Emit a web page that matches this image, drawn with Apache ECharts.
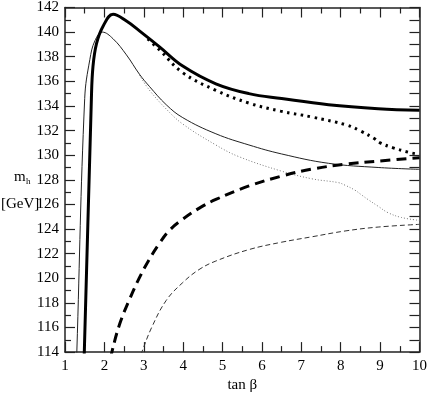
<!DOCTYPE html>
<html>
<head>
<meta charset="utf-8" />
<title>mh vs tan beta</title>
<script src="https://cdn.jsdelivr.net/npm/echarts@6/dist/echarts.min.js"></script>
<style>
  html, body { margin: 0; padding: 0; background: #fff; }
  #main { width: 430px; height: 398px; }
</style>
</head>
<body>
<div id="main"></div>
<script type="text/javascript">
// tan beta ticks / m_h ticks
var xTicks = [1, 10, 1];
var yTicks = [114, 142, 2];

// thick solid
var thickSolid = [[1.47, 113], [1.49, 114], [1.67, 134.6], [1.71, 137.2], [1.80, 139.07], [1.97, 140.5],
  [2.22, 141.45], [2.56, 140.9], [2.89, 140.1], [3.40, 138.8], [3.99, 137.24], [4.83, 135.8],
  [5.67, 135.0], [6.5, 134.6], [7.69, 134.1], [8.95, 133.78], [10, 133.65]];
// thin solid
var thinSolid = [[1.29, 113], [1.30, 114], [1.50, 134.6], [1.63, 137.76], [1.76, 139.3], [1.95, 140.0],
  [2.22, 139.46], [2.56, 138.15], [2.89, 136.58], [3.14, 135.6], [3.57, 134.1], [3.99, 133.05],
  [4.83, 131.74], [5.67, 130.83], [6.5, 130.1], [7.69, 129.34], [8.95, 129.0], [10, 128.85]];
// thick dotted
var thickDotted = [[3.1, 139.45], [3.40, 138.55], [3.99, 136.7], [4.83, 135.27], [5.67, 134.23],
  [6.47, 133.58], [7.27, 133.1], [8.15, 132.45], [8.51, 131.95], [8.85, 131.35], [9.0, 131.0],
  [9.33, 130.6], [9.71, 130.25], [10, 130.05]];
// thin dotted
var thinDotted = [[2.89, 136.5], [3.14, 135.3], [3.57, 133.75], [3.99, 132.53], [4.83, 130.83],
  [5.4, 129.9], [6.47, 128.73], [7.27, 128.08], [7.94, 127.77], [8.11, 127.56], [8.36, 127.16],
  [8.53, 126.77], [8.70, 126.38], [8.95, 125.85], [9.2, 125.33], [9.54, 124.94], [10, 124.7]];
// thick dashed
var thickDashed = [[2.17, 113.5], [2.19, 114], [2.39, 116.3], [2.64, 118.3], [2.89, 120.05], [3.14, 121.54],
  [3.40, 122.85], [3.65, 123.89], [3.99, 124.8], [4.41, 125.7], [4.83, 126.4], [5.67, 127.5],
  [6.5, 128.3], [7.27, 128.87], [8.11, 129.26], [8.95, 129.52], [10, 129.8]];
// thin dashed
var thinDashed = [[2.93, 113.8], [2.95, 114], [3.2, 116.0], [3.57, 118.2], [3.99, 119.65], [4.4, 120.7],
  [4.83, 121.4], [5.67, 122.33], [6.5, 122.93], [7.27, 123.37], [8.11, 123.84], [8.95, 124.16], [10, 124.38]];

var myChart = echarts.init(document.getElementById('main'));

var serif = 'Liberation Serif';
var axisCol = '#222';

function line(data, width, type, color) {
  return {
    type: 'line',
    data: data,
    showSymbol: false,
    smooth: 0.4,
    clip: true,
    silent: true,
    lineStyle: { width: width, type: type, color: color }
  };
}

var baseAxis = {
  type: 'value',
  axisLine: { show: true, onZero: false, lineStyle: { color: axisCol, width: 1.5 } },
  axisTick: { show: true, inside: true, length: 10, lineStyle: { color: axisCol, width: 1.2 } },
  minorTick: { show: true, splitNumber: 2, length: 6, lineStyle: { color: axisCol, width: 1.2 } },
  splitLine: { show: false },
  minorSplitLine: { show: false }
};

myChart.setOption({
  animation: false,
  grid: { left: 65, right: 8, top: 6, bottom: 35 },
  xAxis: [
    Object.assign({}, baseAxis, {
      min: xTicks[0], max: xTicks[1], interval: xTicks[2],
      position: 'bottom',
      name: 'tan β', nameLocation: 'middle', nameGap: 24,
      nameTextStyle: { fontFamily: serif, fontSize: 15, color: '#000' },
      axisLabel: { fontFamily: serif, fontSize: 15, color: '#000', margin: 6 }
    }),
    Object.assign({}, baseAxis, {
      min: xTicks[0], max: xTicks[1], interval: xTicks[2],
      position: 'top',
      axisLabel: { show: false }
    })
  ],
  yAxis: [
    Object.assign({}, baseAxis, {
      min: yTicks[0], max: yTicks[1], interval: yTicks[2],
      position: 'left',
      axisLabel: { fontFamily: serif, fontSize: 15, color: '#000', margin: 6 }
    }),
    Object.assign({}, baseAxis, {
      min: yTicks[0], max: yTicks[1], interval: 1,
      position: 'right',
      minorTick: { show: false },
      axisLabel: { show: false }
    })
  ],
  graphic: [
    { type: 'text', left: 14, top: 170, style: { text: 'm', font: '15px "Liberation Serif"', fill: '#000' } },
    { type: 'text', left: 26, top: 177, style: { text: 'h', font: '9px "Liberation Serif"', fill: '#000' } },
    { type: 'text', left: 1, top: 197, style: { text: '[GeV]', font: '15px "Liberation Serif"', fill: '#000' } }
  ],
  series: [
    line(thinDotted, 1, [1, 2], '#777'),
    line(thinDashed, 1, [5, 3], '#333'),
    line(thinSolid, 1, 'solid', '#222'),
    line(thickDashed, 3, [10, 6], '#000'),
    line(thickDotted, 3, [2.5, 4.5], '#000'),
    line(thickSolid, 3, 'solid', '#000')
  ]
});
</script>
</body>
</html>
